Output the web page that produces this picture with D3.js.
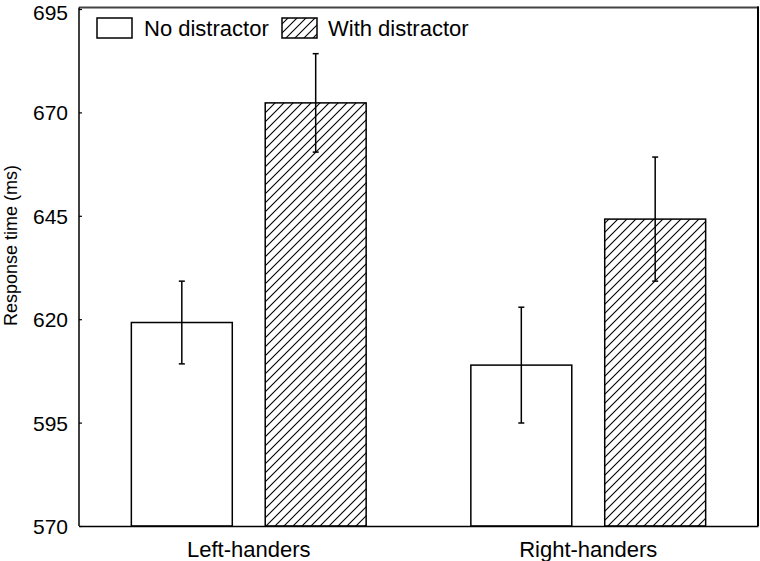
<!DOCTYPE html>
<html><head><meta charset="utf-8">
<script src="https://cdn.jsdelivr.net/npm/d3@7"></script>
<style>body{margin:0;background:#fff}svg{display:block}text{font-family:Arial,"Liberation Sans",sans-serif;fill:#000}</style>
</head><body>
<svg id="c" width="760" height="561"></svg>
<script>
const groups = ["Left-handers", "Right-handers"];
const series = ["No distractor", "With distractor"];
const noDistractor = [619.2, 608.9];
const withDistractor = [672.3, 644.2];
const errNo = [10.0, 14.0];
const errWith = [11.9, 15.0];
const yTicks = [570, 595, 620, 645, 670, 695];

const svg = d3.select("#c");
const L = 79, R = 758, T = 9, B = 526;
const y = d3.scaleLinear().domain([570, 695]).range([B, T]);
const x0 = d3.scaleBand().domain(groups).range([L, R]).padding(0);
const x1 = d3.scaleBand().domain(series).range([0, x0.bandwidth()]).paddingInner(0.246).paddingOuter(0.391);

const defs = svg.append("defs");
const pat = defs.append("pattern").attr("id", "hatch").attr("patternUnits", "userSpaceOnUse")
  .attr("width", 9).attr("height", 9);
pat.append("rect").attr("width", 9).attr("height", 9).attr("fill", "#fff");
pat.append("path").attr("d", "M-2,2 L2,-2 M0,9 L9,0 M7,11 L11,7").attr("stroke", "#000").attr("stroke-width", 1.1);

const data = [];
groups.forEach((g, i) => {
  data.push({g, s: series[0], v: noDistractor[i], e: errNo[i]});
  data.push({g, s: series[1], v: withDistractor[i], e: errWith[i]});
});

svg.selectAll("rect.bar").data(data).join("rect").attr("class", "bar")
  .attr("x", d => x0(d.g) + x1(d.s))
  .attr("y", d => y(d.v))
  .attr("width", x1.bandwidth())
  .attr("height", d => y(570) - y(d.v))
  .attr("fill", d => d.s === series[0] ? "#fff" : "url(#hatch)")
  .attr("stroke", "#000").attr("stroke-width", 1.5);

const eb = svg.selectAll("g.err").data(data).join("g").attr("class", "err")
  .attr("stroke", "#000").attr("stroke-width", 1.5);
eb.append("line")
  .attr("x1", d => x0(d.g) + x1(d.s) + x1.bandwidth() / 2)
  .attr("x2", d => x0(d.g) + x1(d.s) + x1.bandwidth() / 2)
  .attr("y1", d => y(d.v + d.e)).attr("y2", d => y(d.v - d.e));
[1, -1].forEach(sg => {
  eb.append("line")
    .attr("x1", d => x0(d.g) + x1(d.s) + x1.bandwidth() / 2 - 3)
    .attr("x2", d => x0(d.g) + x1(d.s) + x1.bandwidth() / 2 + 3)
    .attr("y1", d => y(d.v + sg * d.e)).attr("y2", d => y(d.v + sg * d.e));
});

// frame
svg.append("line").attr("x1", L).attr("x2", R + 1).attr("y1", 7.5).attr("y2", 7.5).attr("stroke", "#444").attr("stroke-width", 2);
svg.append("line").attr("x1", R).attr("x2", R).attr("y1", 6.5).attr("y2", B).attr("stroke", "#000").attr("stroke-width", 2);

// y axis
const ya = svg.append("g").attr("transform", `translate(${L},0)`)
  .call(d3.axisLeft(y).tickValues(yTicks).tickSize(-3).tickPadding(11).tickFormat(d3.format("d")));
ya.select(".domain").attr("stroke", "#000").attr("stroke-width", 1.5).attr("d", `M0,7.5V${B}`);
ya.selectAll(".tick line").attr("stroke", "#000").attr("stroke-width", 1.2);
ya.selectAll("text").style("font-size", "21px").attr("fill", "#000")
  .attr("dy", d => d === 695 ? "0.5em" : "0.36em");

// x axis
const xa = svg.append("g").attr("transform", `translate(0,${B})`)
  .call(d3.axisBottom(x0).tickSize(0).tickPadding(15));
xa.select(".domain").attr("stroke", "#000").attr("stroke-width", 1.5);
xa.selectAll("text").style("font-size", "22px").attr("fill", "#000").attr("dy", "0.71em");

// y title
svg.append("text").attr("transform", "translate(17,326) rotate(-90)")
  .attr("text-anchor", "start").style("font-size", "18px").text("Response time (ms)");

// legend
const leg = [{s: series[0], bx: 97, tx: 144}, {s: series[1], bx: 282, tx: 328}];
leg.forEach(l => {
  svg.append("rect").attr("x", l.bx).attr("y", 18).attr("width", 35).attr("height", 20)
    .attr("fill", l.s === series[0] ? "#fff" : "url(#hatch)").attr("stroke", "#000").attr("stroke-width", 1.5);
  svg.append("text").attr("x", l.tx).attr("y", 36).style("font-size", "22px").text(l.s);
});
</script>
</body></html>
